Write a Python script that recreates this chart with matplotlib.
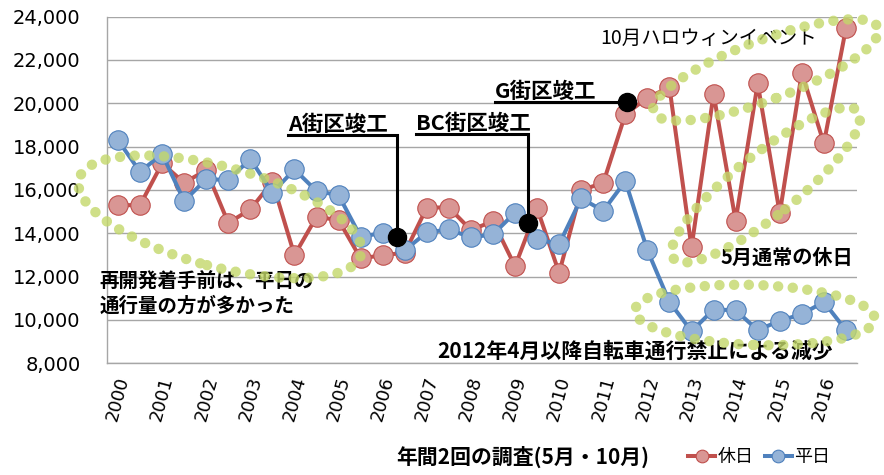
import matplotlib
matplotlib.use("Agg")
import matplotlib.pyplot as plt
from matplotlib.patches import Ellipse
from matplotlib.transforms import ScaledTranslation
from matplotlib.ticker import FuncFormatter

plt.rcParams['font.family'] = ['Noto Sans CJK JP', 'DejaVu Sans']

# --- Data: two surveys per year (May, October) ---
years = list(range(2000, 2017))
holiday = [15300, 15300, 17230, 16330, 16920, 14480, 15100, 16380, 12990, 14760,
           14610, 12840, 12990, 13100, 15190, 15190, 14150, 14560, 12480, 15150,
           12170, 15990, 16330, 19490, 20260, 20740, 13350, 20430, 14580, 20920,
           14920, 21410, 18150, 23460]
weekday = [18300, 16840, 17660, 15490, 16500, 16460, 17430, 15870, 16950, 15950,
           15760, 13840, 14020, 13220, 14040, 14180, 13810, 13950, 14950, 13720,
           13500, 15610, 15040, 16410, 13220, 10830, 9480, 10480, 10450, 9530,
           9960, 10270, 10830, 9530]

# block completion events: label, survey index, traffic level
event_labels = ['A街区竣工', 'BC街区竣工', 'G街区竣工']
event_x = [12.65, 18.6, 23.07]
event_y = [13830, 14490, 20080]
event_text_x = [7.7, 13.5, 17.1]
event_line_y = [18560, 18600, 20080]

RED, RED_FACE = '#c0504d', '#d99694'
BLUE, BLUE_FACE = '#4f81bd', '#95b3d7'
GRID = '#a6a6a6'
DOTS = '#c3d86a'

fig = plt.figure(figsize=(8.84, 4.75), dpi=100)
ax = fig.add_axes([0.121, 0.2352, 0.8484, 0.7297])

n = len(holiday)
xs = list(range(n))
l_hol, = ax.plot(xs, holiday, color=RED, lw=2.9, marker='o', ms=14,
                 mfc=RED_FACE, mec=RED, mew=0.8, label='休日', zorder=3)
l_wk, = ax.plot(xs, weekday, color=BLUE, lw=2.9, marker='o', ms=14,
                mfc=BLUE_FACE, mec=BLUE, mew=0.8, label='平日', zorder=4)

ax.set_xlim(-0.5, n - 0.5)
ax.set_ylim(8000, 24000)
ax.set_yticks(range(8000, 24001, 2000))
ax.yaxis.set_major_formatter(FuncFormatter(lambda v, p: f'{int(v):,}'))
ax.grid(axis='y', color=GRID, lw=1)
ax.set_axisbelow(True)
for s in ['top', 'right']:
    ax.spines[s].set_visible(False)
for s in ['left', 'bottom']:
    ax.spines[s].set_color(GRID)
    ax.spines[s].set_linewidth(1)

ax.set_xticks(range(0, n, 2))
ax.set_xticklabels([str(y) for y in years], rotation=75, ha='center',
                   fontsize=13, family='DejaVu Sans')
ax.tick_params(axis='x', length=0, pad=8)
ax.tick_params(axis='y', length=0, pad=19, labelsize=14)
for t in ax.get_yticklabels():
    t.set_family('DejaVu Sans')

# completion markers with underlined labels
for lab, ex, ey, tx, ly in zip(event_labels, event_x, event_y, event_text_x, event_line_y):
    ax.plot([tx, ex, ex], [ly, ly, ey], color='black', lw=2.2, zorder=6,
            solid_joinstyle='miter')
    ax.plot(ex, ey, 'o', color='black', ms=13, zorder=7)
    ax.text(tx, ly + 180, lab, fontsize=15.5, fontweight='bold',
            ha='left', va='baseline', zorder=7)

# dotted ellipses around groups of points: center (index, value), radii px, angle
ellipses = [
    (4.62, 14760, 146, 50, -15),
    (29.37, 21540, 120, 30, 20.6),
    (29.37, 16230, 118, 31, 38.6),
    (28.87, 10230, 120, 30, -2),
]
for cx, cy, a, b, ang in ellipses:
    e = Ellipse((0, 0), 2 * a, 2 * b, angle=ang, fill=False, edgecolor=DOTS,
                lw=7.5, linestyle=(0, (0.01, 1.4)), alpha=0.8,
                transform=ScaledTranslation(cx, cy, ax.transData),
                clip_on=False, zorder=8)
    e.set_capstyle('round')
    ax.add_patch(e)

ax.text(21.85, 22990, '10月ハロウィンイベント', fontsize=14, ha='left', va='center')
ax.text(27.3, 12910, '5月通常の休日', fontsize=14.5, fontweight='bold',
        ha='left', va='center')
ax.text(-0.83, 12200, '再開発着手前は、平日の\n通行量の方が多かった', fontsize=14,
        fontweight='bold', ha='left', va='top', linespacing=1.3, clip_on=False)
ax.text(14.46, 8570, '2012年4月以降自転車通行禁止による減少', fontsize=15,
        fontweight='bold', ha='left', va='center')

fig.text(523 / 884, 1 - 457 / 475, '年間2回の調査(5月・10月)', fontsize=15,
         fontweight='bold', ha='center', va='center')
fig.legend(handles=[l_hol, l_wk], loc='center left',
           bbox_to_anchor=(688 / 884, 1 - 457 / 475), ncol=2, frameon=False,
           fontsize=13, handlelength=1.5, handletextpad=0.15, columnspacing=0.6,
           markerscale=0.65, borderpad=0, borderaxespad=0)

fig.savefig('out.png', dpi=100)
